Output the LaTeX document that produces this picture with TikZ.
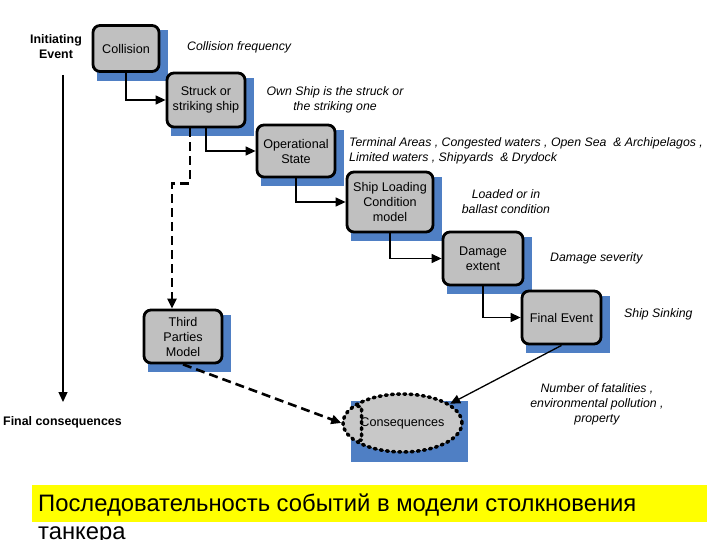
\documentclass[tikz,border=0pt]{standalone}
\usepackage{fontspec}
\setmainfont{Liberation Sans}
\usetikzlibrary{arrows.meta,calc,backgrounds,shapes.geometric}
\definecolor{boxgray}{RGB}{192,192,192}
\definecolor{ellgray}{RGB}{200,200,200}
\definecolor{shadowblue}{RGB}{79,127,196}
\definecolor{baryellow}{RGB}{255,255,0}
\begin{document}
\begin{tikzpicture}[x=1pt,y=-1pt,
  box/.style={draw=black, line width=2.8pt, fill=boxgray, rounded corners=7pt,
    align=center, font=\fontsize{12.6}{15}\selectfont, inner sep=0pt},
  note/.style={font=\itshape\fontsize{12.3}{15}\selectfont, inner sep=0pt},
  axislabel/.style={font=\bfseries\fontsize{12.4}{15}\selectfont, inner sep=0pt, align=center},
  conn/.style={line width=1.3pt, -{Triangle[length=10pt,width=9pt]}},
  dconn/.style={line width=2.6pt, dash pattern=on 9pt off 5pt, -{Triangle[length=10pt,width=9pt]}},
  shadowfill/.style={fill=shadowblue}
]
\useasboundingbox (0,0) rectangle (720,540);

% main chain
\node[box, minimum width=66pt, minimum height=46pt] (coll) at (126,48.5) {Collision};
\node[box, minimum width=78pt, minimum height=54pt] (struck) at (206,100) {Struck or\\striking ship};
\node[box, minimum width=78pt, minimum height=52pt] (op) at (296,151) {Operational\\State};
\node[box, minimum width=86pt, minimum height=60pt] (load) at (390,202) {Ship Loading\\Condition\\model};
\node[box, minimum width=80pt, minimum height=53pt] (dmg) at (483,258.5) {Damage\\extent};
\node[box, minimum width=79pt, minimum height=53pt] (fin) at (561.5,317.5) {Final Event};
\node[box, minimum width=78pt, minimum height=53pt] (third) at (183,336.5) {Third\\Parties\\Model};
\node[ellipse, draw=black, fill=ellgray, line width=3.5pt, line cap=round,
  dash pattern=on 2pt off 4.2pt, minimum width=115pt, minimum height=58pt,
  inner sep=0pt, font=\fontsize{12.6}{15}\selectfont] (cons) at (402.5,423) {Consequences};
\draw[line width=3.5pt, line cap=round, dash pattern=on 2pt off 4.2pt]
  ($(cons.center)+(-45,-17)$) -- ($(cons.center)+(-41,-16)$) -- ($(cons.center)+(-41,17)$) -- ($(cons.center)+(-47,18)$);

\begin{pgfonlayer}{background}
  \foreach \n in {coll,struck,op,load,dmg,fin,third}
    \fill[shadowfill] ($(\n.north west)+(5,6)$) rectangle ($(\n.south east)+(8,8)$);
  \fill[shadowfill] ($(cons.center)+(-51.5,-22)$) rectangle ($(cons.center)+(65.5,39)$);
\end{pgfonlayer}

% connectors
\draw[conn] (coll.south) |- (struck.west);
\draw[conn] (struck.south) |- (op.west);
\draw[conn] (op.south) |- (load.west);
\draw[conn] (load.south) |- (dmg.west);
\draw[conn] (dmg.south) |- (fin.west);
\draw[conn] (fin.south) -- (cons.22);
\draw[dconn] ([xshift=-16pt]struck.south) -- ++(0,55) -| ([xshift=-11pt]third.north);
\draw[dconn] (third.south) -- (cons.west);

% notes
\node[note, anchor=west] (n1) at (187,47) {Collision frequency};
\node[note, align=center] (n2) at (335,100) {Own Ship is the struck or\\the striking one};
\node[note, align=left, anchor=west] (n3) at (349,151) {Terminal Areas , Congested waters , Open Sea \ \& Archipelagos ,\\Limited waters , Shipyards \ \& Drydock};
\node[note, align=center] (n4) at (506,202) {Loaded or in\\ballast condition};
\node[note, anchor=west] (n5) at (550,258) {Damage severity};
\node[note, anchor=west] (n6) at (624,314) {Ship Sinking};
\node[note, align=center] (n7) at (597,404) {Number of fatalities ,\\environmental pollution ,\\property};

% axis
\node[axislabel] (init) at (56,47) {Initiating\\Event};
\coordinate (axtop) at (63,75);
\coordinate (axbot) at (63,402);
\draw[conn] (axtop) -- (axbot);
\node[axislabel, anchor=west] (final) at (3,422) {Final consequences};

% caption
\fill[baryellow] (32,485) rectangle (707,522);
\node[anchor=base west, inner sep=0pt, align=left, font=\fontsize{23.8}{28}\selectfont] (cap) at (38,539)
  {Последовательность событий в модели столкновения\\танкера};
\end{tikzpicture}
\end{document}
